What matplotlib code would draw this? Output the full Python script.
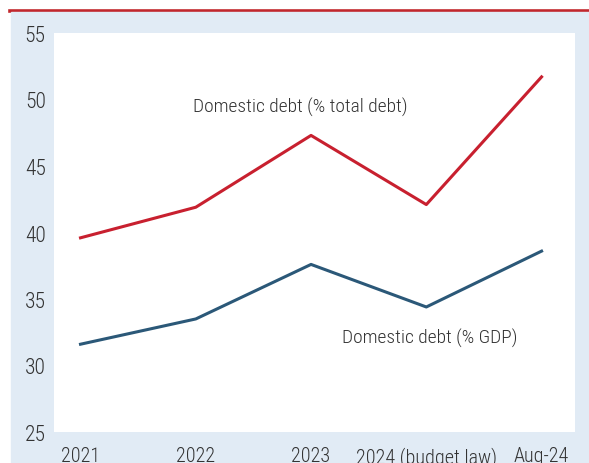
import matplotlib
matplotlib.use("Agg")
import matplotlib.pyplot as plt
from matplotlib.patches import Rectangle
from matplotlib.lines import Line2D

periods = ["2021", "2022", "2023", "2024 (budget law)", "Aug-24"]
debt_total = [39.6, 41.9, 47.3, 42.1, 51.7]
debt_gdp = [31.6, 33.5, 37.6, 34.4, 38.6]

plt.rcParams["font.family"] = ["Roboto Condensed", "DejaVu Sans"]
plt.rcParams["font.weight"] = "light"

fig = plt.figure(figsize=(5.89, 4.64), dpi=100)
W, H = 589, 464

# light blue panel and red top rule
fig.patches.append(Rectangle((11 / W, 0), 1 - 11 / W, 1 - 13 / H,
                             transform=fig.transFigure, color="#e1ebf5", zorder=-1))
fig.lines.append(Line2D([10 / W, 1], [1 - 12 / H, 1 - 12 / H],
                        transform=fig.transFigure, color="#c1272d", lw=2.6, zorder=-1))

ax = fig.add_axes([54 / W, 1 - 433 / H, (575 - 54) / W, (433 - 34) / H])
ax.set_facecolor("white")

x = range(len(periods))
ax.plot(x, debt_total, color="#c8202f", lw=2.2)
ax.plot(x, debt_gdp, color="#2b5878", lw=2.2)

ax.text(1.91, 49.5, "Domestic debt (% total debt)", ha="center", va="center",
        fontsize=14, color="#333333")
ax.text(3.03, 32.1, "Domestic debt (% GDP)", ha="center", va="center",
        fontsize=14, color="#333333")

ax.set_xlim(-0.23, 4.29)
ax.set_ylim(25, 55)
ax.set_yticks(range(25, 56, 5))
ax.set_xticks(list(x))
ax.set_xticklabels(periods)
ax.tick_params(length=0, labelsize=15.5, labelcolor="#333333")
ax.tick_params(axis="x", labelsize=14.5, pad=10)
ax.tick_params(axis="y", pad=6)
for s in ax.spines.values():
    s.set_visible(False)

fig.savefig("out.png", dpi=100)
